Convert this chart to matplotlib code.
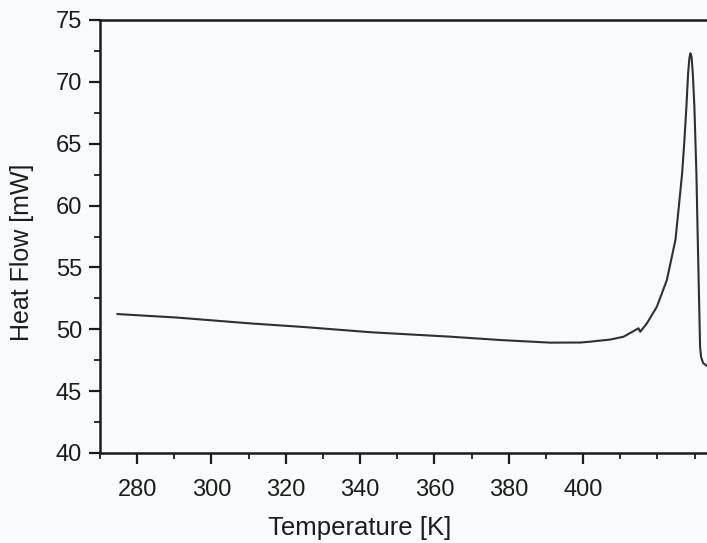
import matplotlib
matplotlib.use("Agg")
import matplotlib.pyplot as plt
from matplotlib.ticker import MultipleLocator

# Data (DSC trace)
temperature = [274.7, 290.6, 310.7, 325.0, 342.9, 364.4, 377.8, 391.2, 399.3, 401.96,
               407.33, 410.90, 414.93, 415.38, 417.18, 419.87, 422.55, 424.86,
               425.77, 426.66, 427.28, 427.81, 428.27, 428.62, 428.89, 429.21, 429.53,
               429.96, 430.23, 430.50, 430.87, 431.22, 431.49, 431.76, 432.30, 433.37]
heat_flow = [51.23, 50.95, 50.47, 50.18, 49.76, 49.40, 49.13, 48.92, 48.93, 49.00,
             49.17, 49.40, 50.08, 49.80, 50.48, 51.83, 53.98, 57.22,
             59.91, 62.61, 65.30, 67.99, 70.69, 71.93, 72.31, 72.01, 70.69,
             67.99, 65.30, 62.61, 57.22, 52.37, 48.59, 47.76, 47.27, 47.03]

x_ticks = [280, 300, 320, 340, 360, 380, 400]
y_ticks = [40, 45, 50, 55, 60, 65, 70, 75]

W, H = 707, 543
bg = "#f7fbfc"
ink = "#1c1c1c"
fig = plt.figure(figsize=(W / 100, H / 100), dpi=100, facecolor=bg)

left_px = 100
right_px = 582.7 + (440 - 400) * 3.725
top_px, bottom_px = 20, 453
ax_w = right_px - left_px
ax_h = bottom_px - top_px
ax = fig.add_axes([left_px / W, 1 - bottom_px / H, ax_w / W, ax_h / H])
ax.set_facecolor(bg)

ax.plot(temperature, heat_flow, color="#303030", lw=1.5, solid_joinstyle="round")

ax.set_xlim(270, 440)
ax.set_ylim(40, 75)
ax.set_xticks(x_ticks)
ax.set_yticks(y_ticks)
ax.xaxis.set_minor_locator(MultipleLocator(10))
ax.yaxis.set_minor_locator(MultipleLocator(2.5))

font = "Liberation Sans"
ax.tick_params(axis="both", which="major", direction="out", length=8, width=1.6,
               labelsize=17, colors=ink, pad=5)
ax.tick_params(axis="x", which="major", pad=11)
ax.tick_params(axis="both", which="minor", direction="out", length=4.5, width=1.3,
               colors=ink)
for lab in ax.get_xticklabels() + ax.get_yticklabels():
    lab.set_fontfamily(font)

ax.spines["right"].set_visible(False)
for s in ["left", "bottom", "top"]:
    ax.spines[s].set_linewidth(1.8)
    ax.spines[s].set_color(ink)

ax.set_xlabel("Temperature [K]", fontsize=18.5, family=font, color=ink)
ax.set_ylabel("Heat Flow [mW]", fontsize=18, family=font, color=ink)
ax.xaxis.set_label_coords((360 - left_px) / ax_w, -(516 - bottom_px) / ax_h)
ax.yaxis.set_label_coords(-(left_px - 34) / ax_w, 1 - (252 - top_px) / ax_h)

fig.savefig("out.png", dpi=100, facecolor=bg)
